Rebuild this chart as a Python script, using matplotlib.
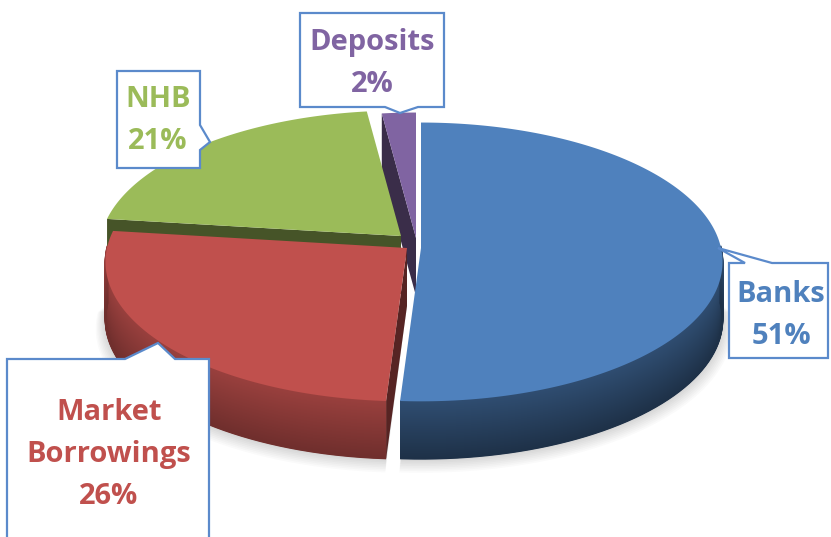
import numpy as np
import matplotlib.pyplot as plt
from matplotlib.patches import Polygon
from matplotlib.colors import to_rgb

# data
names = ['Banks', 'Market\nBorrowings', 'NHB', 'Deposits']
shares = [51, 26, 21, 2]
colors = ['#4F81BD', '#C0504D', '#9BBB59', '#8064A2']

# layout (pixels) -- the pie is drawn by hand to get the 3D look
W, H = 831, 537
RX, RY, PERSP, DEPTH = 300, 138, 0.1, 58
vertices = [(421, 248), (407, 248), (401, 236), (416, 238)]


def shade(c, f):
    return tuple(min(1, v * f) for v in to_rgb(c))


def proj(v, a, r=1.0, dz=0.0):
    a = np.radians(a)
    k = 1 / (1 + PERSP * r * np.sin(a))
    return v[0] + RX * r * np.cos(a) * k, v[1] - RY * r * np.sin(a) * k + dz


fig = plt.figure(figsize=(W / 100, H / 100), dpi=100)
ax = fig.add_axes([0, 0, 1, 1])

ends = 90 - np.cumsum(shares) * 360 / sum(shares)
starts = np.concatenate([[90], ends[:-1]])

sides = []
for i in range(len(shares)):
    t1, t2, v, c = starts[i], ends[i], vertices[i], colors[i]
    ang = np.linspace(t1, t2, 300)
    x, y = proj(v, ang)

    # top face
    ax.add_patch(Polygon(np.column_stack([np.r_[v[0], x], np.r_[v[1], y]]),
                         closed=True, fc=c, ec='none', zorder=3))

    # front part of the rim
    front = np.sin(np.radians(ang)) < 0.02
    if front.any():
        fx, fy = x[front], y[front]
        sides.append((fy.mean(), 'rim', (fx, fy, c)))
        # soft shadow below the rim
        for k in range(1, 9):
            sx, sy = proj(v, ang[front], r=1 + 0.004 * k, dz=DEPTH + 1.0 * k)
            ax.add_patch(Polygon(np.column_stack([np.r_[v[0], sx], np.r_[v[1] + DEPTH, sy]]),
                                 closed=True, fc='#000000', alpha=0.02, ec='none', zorder=1))

    # cut faces that look towards the viewer
    for t, nrm in ((t1, t1 + 90), (t2, t2 - 90)):
        if np.sin(np.radians(nrm)) < -0.01:
            ex, ey = proj(v, t)
            quad = [(v[0], v[1]), (ex, ey), (ex, ey + DEPTH), (v[0], v[1] + DEPTH)]
            sides.append(((v[1] + ey) / 2, 'cut', (quad, c)))

for _, kind, d in sorted(sides, key=lambda s: s[0]):
    if kind == 'rim':
        fx, fy, c = d
        lo, hi = (0.6, 0.38) if c == '#4F81BD' else (0.8, 0.58)
        for dz in np.arange(0, DEPTH, 0.5):
            f = lo + (hi - lo) * dz / DEPTH
            ax.plot(fx, fy + dz, color=shade(c, f), lw=1.2, zorder=2,
                    solid_capstyle='butt')
    else:
        quad, c = d
        ax.add_patch(Polygon(quad, closed=True, fc=shade(c, 0.45), ec='none', zorder=2))

# callout boxes
box_edge = '#5B8ACB'
callouts = [
    [(729, 263), (745, 263), (718, 248), (772, 263), (828, 263), (828, 358), (729, 358)],
    [(7, 359), (125, 359), (158, 343), (175, 359), (209, 359), (209, 550), (7, 550)],
    [(117, 71), (200, 71), (200, 125), (210, 142), (200, 150), (200, 168), (117, 168)],
    [(300, 13), (444, 13), (444, 107), (418, 107), (400, 113), (385, 107), (300, 107)],
]
for pts in callouts:
    ax.add_patch(Polygon(pts, closed=True, fc='white', ec=box_edge, lw=1.6, zorder=4))

# label text: (x center, first baseline)
label_pos = [(781, 302), (109, 420), (158, 107), (372, 50)]
for name, share, c, (lx, ly) in zip(names, shares, colors, label_pos):
    lines = name.split('\n') + [f'{share}%']
    for j, line in enumerate(lines):
        ax.text(lx, ly + 42 * j, line, color=c, ha='center', va='baseline',
                fontsize=21, fontweight='bold', family=['Open Sans', 'DejaVu Sans'],
                zorder=5)

ax.set_xlim(0, W)
ax.set_ylim(H, 0)
ax.axis('off')
fig.savefig('out.png', dpi=100)
